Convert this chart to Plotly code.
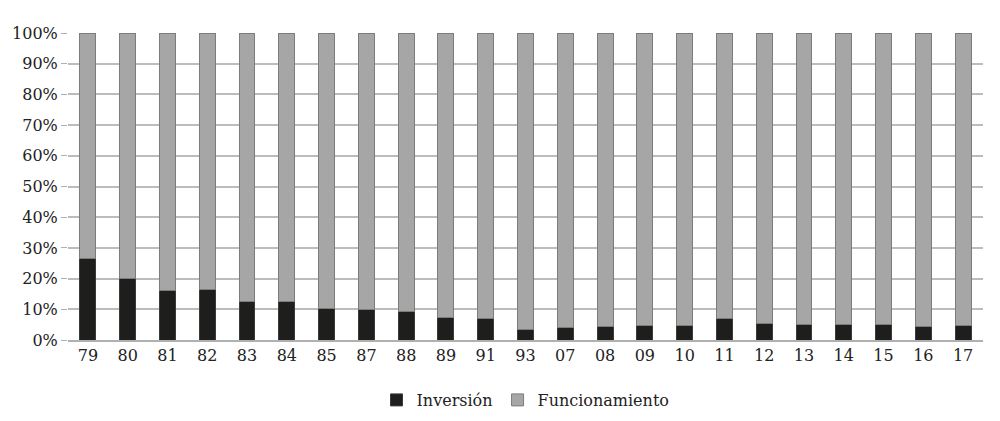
import plotly.graph_objects as go

years = ["79", "80", "81", "82", "83", "84", "85", "87", "88", "89", "91", "93",
         "07", "08", "09", "10", "11", "12", "13", "14", "15", "16", "17"]
inversion = [26.7, 20.0, 16.1, 16.3, 12.6, 12.7, 10.4, 9.8, 9.3, 7.3, 7.0, 3.4,
             4.2, 4.3, 4.7, 4.8, 7.0, 5.5, 5.1, 5.2, 4.9, 4.3, 4.7]
funcionamiento = [round(100 - v, 1) for v in inversion]

serif = "DejaVu Serif"

fig = go.Figure()
fig.add_trace(go.Bar(x=years, y=inversion, name="Inversión",
                     marker=dict(color="#1e1e1c", line=dict(color="#3a3a3a", width=1))))
fig.add_trace(go.Bar(x=years, y=funcionamiento, name="Funcionamiento",
                     marker=dict(color="#a6a6a6", line=dict(color="#7c7c7c", width=1))))

fig.update_layout(
    barmode="stack",
    bargap=0.6,
    width=1000, height=421,
    margin=dict(l=60, r=25, t=25, b=87),
    plot_bgcolor="white", paper_bgcolor="white",
    font=dict(family=serif, size=16, color="#222"),
    legend=dict(orientation="h", x=0.5, xanchor="center", y=-0.14, yanchor="top",
                font=dict(family=serif, size=16), traceorder="normal"),
)
fig.update_xaxes(type="category", showline=True, linecolor="#b0b0b0", linewidth=1.5,
                 ticks="", automargin=False, tickfont=dict(family=serif, size=16))
fig.update_yaxes(range=[0, 100], dtick=10, ticksuffix="%", showgrid=True,
                 gridcolor="#bcbcbc", gridwidth=1.5, zeroline=False,
                 ticks="outside", ticklen=6, tickcolor="#b0b0b0", automargin=False,
                 tickfont=dict(family=serif, size=16))

fig.write_html("out.html")
